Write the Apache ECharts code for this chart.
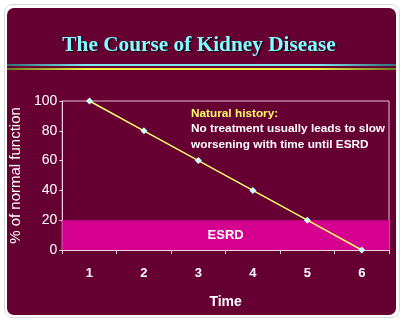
<!DOCTYPE html>
<html><head><meta charset="utf-8">
<script src="https://cdn.jsdelivr.net/npm/echarts@6/dist/echarts.min.js"></script>
<style>html,body{margin:0;padding:0;background:#fff}#c{width:406px;height:323px}</style>
</head><body><div id="c"></div>
<script>
const titleText = 'The Course of Kidney Disease';
const categories = ['1', '2', '3', '4', '5', '6'];
const values = [100, 80, 60, 40, 20, 0];
const yTicks = { min: 0, max: 100, interval: 20 };
const esrdBand = [0, 20];
const esrdLabel = 'ESRD';
const noteTitle = 'Natural history:';
const noteLines = ['No treatment usually leads to slow', 'worsening with time until ESRD'];
const yName = '% of normal function';
const xName = 'Time';

const maroon = '#660033';
const chart = echarts.init(document.getElementById('c'), null, { renderer: 'canvas' });
chart.setOption({
  backgroundColor: '#ffffff',
  animation: false,
  graphic: [
    { type: 'rect', z: -10, shape: { x: 4.5, y: 4.5, width: 395, height: 313, r: 8 }, style: { fill: '#ffffff', stroke: '#d8d8d8', lineWidth: 1 } },
    { type: 'rect', z: -9, shape: { x: 7, y: 8, width: 389, height: 307, r: 7 }, style: { fill: maroon } },
    { type: 'rect', z: -8, shape: { x: 7, y: 64, width: 389, height: 2 }, style: { fill: new echarts.graphic.LinearGradient(0, 0, 1, 0, [
      { offset: 0, color: '#2f6f78' }, { offset: 0.2, color: '#80e8f0' }, { offset: 0.8, color: '#80e8f0' }, { offset: 1, color: '#2f6f78' }]) } },
    { type: 'rect', z: -8, shape: { x: 7, y: 68, width: 389, height: 2 }, style: { fill: new echarts.graphic.LinearGradient(0, 0, 1, 0, [
      { offset: 0, color: '#6a7a20' }, { offset: 0.2, color: '#f0f040' }, { offset: 0.8, color: '#f0f040' }, { offset: 1, color: '#6a7a20' }]) } },
    { type: 'text', x: 199, y: 45, style: { text: titleText, align: 'center', verticalAlign: 'middle', fill: '#80ffff', font: 'bold 21.3px "Liberation Serif", "Times New Roman", serif', textShadowColor: '#1a0010', textShadowOffsetX: 1.5, textShadowOffsetY: 1.5, textShadowBlur: 1 } },
    { type: 'text', left: 191, top: 107.5, z: 10, style: {
      text: '{t|' + noteTitle + '}\n{w|' + noteLines.join('}\n{w|') + '}',
      rich: {
        t: { fill: '#ffff66', font: 'bold 11.8px "Liberation Sans", Arial, sans-serif', lineHeight: 15.5 },
        w: { fill: '#ffffff', font: 'bold 11.8px "Liberation Sans", Arial, sans-serif', lineHeight: 15.5 }
      } } }
  ],
  grid: { left: 60, right: 17, top: 101, bottom: 73, show: true, borderColor: '#e8bcd4', borderWidth: 1, backgroundColor: 'transparent' },
  xAxis: {
    type: 'category', data: categories, boundaryGap: true,
    name: xName, nameLocation: 'middle', nameGap: 45,
    nameTextStyle: { color: '#ffffff', fontSize: 14, fontWeight: 'bold', fontFamily: 'Liberation Sans, Arial, sans-serif' },
    axisLine: { lineStyle: { color: '#f0d0e0', width: 1 } },
    axisTick: { show: true, length: 4, alignWithLabel: false, lineStyle: { color: '#f0d0e0' } },
    axisLabel: { color: '#ffffff', fontSize: 13, fontWeight: 'bold', margin: 17, fontFamily: 'Liberation Sans, Arial, sans-serif' },
    splitLine: { show: false }
  },
  yAxis: {
    type: 'value', min: yTicks.min, max: yTicks.max, interval: yTicks.interval,
    name: yName, nameLocation: 'middle', nameGap: 34, nameRotate: 90,
    nameTextStyle: { color: '#ffffff', fontSize: 15, fontFamily: 'Liberation Sans, Arial, sans-serif' },
    axisLine: { show: true, lineStyle: { color: '#f0d0e0', width: 1 } },
    axisTick: { show: true, length: 3, lineStyle: { color: '#f0d0e0' } },
    axisLabel: { color: '#ffffff', fontSize: 14, margin: 5, fontFamily: 'Liberation Sans, Arial, sans-serif' },
    splitLine: { show: false }
  },
  series: [{
    type: 'line', data: values,
    lineStyle: { color: '#ffff66', width: 1.5 },
    symbol: 'diamond', symbolSize: 7,
    itemStyle: { color: '#ccffff' },
    z: 5,
    markArea: {
      silent: true,
      itemStyle: { color: '#d5008f' },
      label: { show: true, position: 'inside', color: '#ffffff', fontSize: 13, fontWeight: 'bold', fontFamily: 'Liberation Sans, Arial, sans-serif' },
      data: [[{ yAxis: esrdBand[0], name: esrdLabel }, { yAxis: esrdBand[1] }]]
    }
  }]
});
</script></body></html>
